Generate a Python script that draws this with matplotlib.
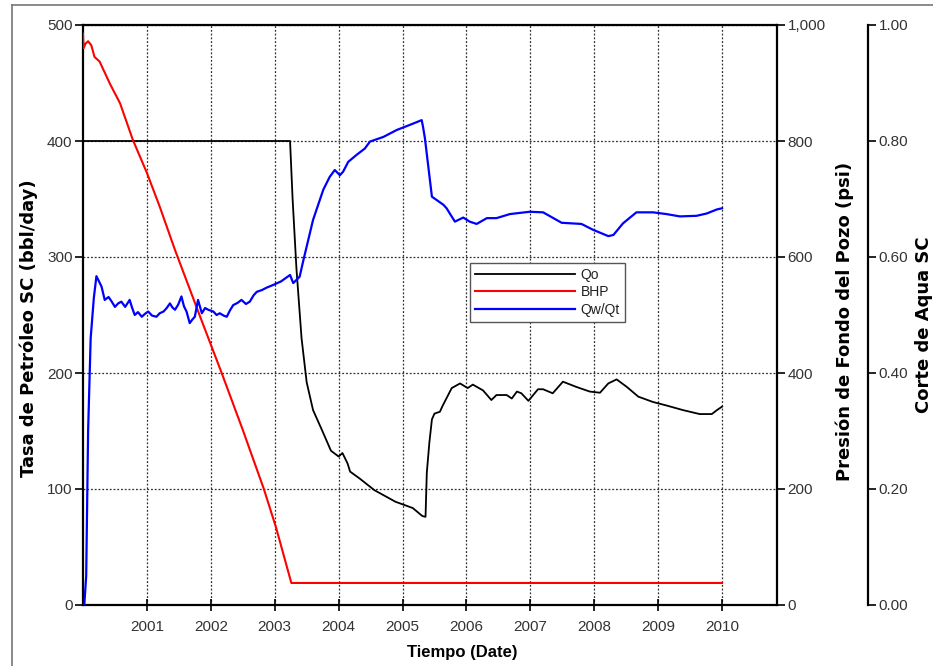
import numpy as np
import matplotlib
matplotlib.use("Agg")
import matplotlib.pyplot as plt
from matplotlib.lines import Line2D
from matplotlib.ticker import FuncFormatter

plt.rcParams['font.family'] = ['Liberation Sans', 'DejaVu Sans']

# Qo - oil rate (bbl/day)
qo_t = [2000.01, 2003.24, 2003.28, 2003.34, 2003.42, 2003.50, 2003.60, 2003.73,
        2003.88, 2004.00, 2004.06, 2004.14, 2004.18, 2004.33, 2004.56, 2004.89,
        2005.16, 2005.31, 2005.36, 2005.38, 2005.42, 2005.46, 2005.50, 2005.585,
        2005.63, 2005.77, 2005.90, 2006.02, 2006.10, 2006.26, 2006.39, 2006.47,
        2006.63, 2006.71, 2006.79, 2006.86, 2006.97, 2007.12, 2007.20, 2007.35,
        2007.51, 2007.72, 2007.93, 2008.09, 2008.22, 2008.35, 2008.51, 2008.69,
        2008.92, 2009.13, 2009.39, 2009.65, 2009.84, 2009.92, 2010.0]
qo_v = [400, 400, 350, 290, 230, 192, 168, 152,
        133, 128, 131, 122, 115, 109, 99, 89,
        83.6, 76.7, 76, 114, 140, 160, 165, 166.6,
        172, 187, 191, 187, 190, 185, 176.7, 181,
        181, 178, 184, 182.5, 176, 186, 186, 182.5,
        192.5, 188, 184, 183, 191, 194.5, 188, 179.6,
        175, 172, 168, 164.6, 164.6, 168, 171]

# BHP - bottom hole pressure (psi)
bhp_t = [2000.0, 2000.01, 2000.04, 2000.08, 2000.13, 2000.18, 2000.26, 2000.42,
         2000.58, 2000.78, 2001.00, 2001.20, 2001.44, 2001.83, 2002.17, 2002.50,
         2002.83, 2003.02, 2003.26, 2010.0]
bhp_v = [985, 960, 968, 972, 965, 945, 937, 899,
         865, 802, 745, 687, 612, 498, 400, 302,
         200, 134, 38, 38]

# Qw/Qt - water cut (fraction)
wc_t = [2000.02, 2000.05, 2000.08, 2000.12, 2000.17, 2000.21, 2000.29, 2000.34,
        2000.40, 2000.45, 2000.50, 2000.55, 2000.60, 2000.66, 2000.73, 2000.77,
        2000.81, 2000.86, 2000.92, 2000.97, 2001.02, 2001.08, 2001.15, 2001.20,
        2001.26, 2001.31, 2001.36, 2001.40, 2001.44, 2001.49, 2001.54, 2001.58,
        2001.62, 2001.67, 2001.71, 2001.75, 2001.80, 2001.86, 2001.91, 2001.96,
        2002.04, 2002.09, 2002.14, 2002.20, 2002.25, 2002.30, 2002.35, 2002.42,
        2002.48, 2002.55, 2002.61, 2002.67, 2002.72, 2002.80, 2002.87, 2002.98,
        2003.10, 2003.24, 2003.29, 2003.39, 2003.45,
        2003.60, 2003.76, 2003.86, 2003.94, 2004.02, 2004.07, 2004.15, 2004.28,
        2004.41, 2004.49, 2004.70, 2004.91, 2005.12, 2005.30, 2005.32, 2005.35,
        2005.46, 2005.64, 2005.69, 2005.74, 2005.82, 2005.95, 2006.05, 2006.16,
        2006.32, 2006.47, 2006.68, 2006.99, 2007.20, 2007.49, 2007.80, 2007.98,
        2008.22, 2008.30, 2008.45, 2008.66, 2008.92, 2009.13, 2009.34, 2009.60,
        2009.76, 2009.92, 2010.0]
wc_v = [0.0, 0.05, 0.30, 0.46, 0.53, 0.567, 0.549, 0.526,
        0.531, 0.523, 0.514, 0.520, 0.523, 0.514, 0.526, 0.512,
        0.500, 0.505, 0.497, 0.502, 0.506, 0.499, 0.497, 0.503,
        0.506, 0.512, 0.520, 0.513, 0.509, 0.518, 0.532, 0.515,
        0.506, 0.486, 0.492, 0.497, 0.526, 0.503, 0.512, 0.509,
        0.506, 0.500, 0.503, 0.499, 0.497, 0.508, 0.517, 0.521,
        0.526, 0.519, 0.523, 0.534, 0.540, 0.543, 0.547, 0.552,
        0.558, 0.569, 0.555, 0.566, 0.595,
        0.664, 0.716, 0.738, 0.750, 0.741, 0.747, 0.764, 0.776,
        0.787, 0.799, 0.807, 0.819, 0.828, 0.836, 0.825, 0.805,
        0.704, 0.690, 0.684, 0.675, 0.661, 0.668, 0.661, 0.657,
        0.667, 0.667, 0.674, 0.678, 0.677, 0.659, 0.657, 0.647,
        0.636, 0.638, 0.658, 0.677, 0.677, 0.674, 0.670, 0.671,
        0.675, 0.682, 0.684]

years = list(range(2001, 2011))

W, H = 933, 666
fig = plt.figure(figsize=(W / 100, H / 100), dpi=100)
x0, x1, y0, y1 = 83, 777, 25, 605
ax = fig.add_axes([x0 / W, 1 - y1 / H, (x1 - x0) / W, (y1 - y0) / H])
ax2 = ax.twinx()
ax3 = ax.twinx()
ax3.spines['right'].set_position(('axes', (868 - x0) / (x1 - x0)))

tick_col = '#333333'
grid_kw = dict(color='#303030', linestyle=(0, (1.5, 1.5)), linewidth=0.9)

l1, = ax.plot(qo_t, qo_v, color='black', lw=1.3, label='Qo')
l2, = ax2.plot(bhp_t, bhp_v, color='#ff0000', lw=1.5, label='BHP')
l3, = ax3.plot(wc_t, wc_v, color='#0000ff', lw=1.6, label='Qw/Qt')

ax.set_xlim(2000.0, 2010.86)
ax.set_ylim(0, 500)
ax2.set_ylim(0, 1000)
ax3.set_ylim(0, 1.0)

ax.set_xticks(years)
ax.set_xticklabels([str(y) for y in years])
ax.set_yticks(range(0, 501, 100))
ax2.set_yticks(range(0, 1001, 200))
ax2.yaxis.set_major_formatter(FuncFormatter(lambda v, p: f'{int(v):,}'))
ax3.set_yticks(np.arange(0, 1.01, 0.2))
ax3.yaxis.set_major_formatter(FuncFormatter(lambda v, p: f'{v:.2f}'))

ax.grid(True, **grid_kw)

for a in (ax, ax2, ax3):
    for s in a.spines.values():
        s.set_linewidth(1.6)
        s.set_color('black')
for s in ('top', 'left', 'bottom'):
    ax2.spines[s].set_visible(False)
    ax3.spines[s].set_visible(False)
ax.spines['right'].set_visible(False)

ax.tick_params(axis='y', direction='out', length=6, width=1.2, labelsize=11,
               labelcolor=tick_col, pad=1.5)
ax.tick_params(axis='x', direction='inout', length=8, width=1.2, labelsize=11,
               labelcolor=tick_col, pad=7)
for a in (ax2, ax3):
    a.tick_params(axis='y', direction='out', length=6, width=1.2, labelsize=11,
                  labelcolor=tick_col, pad=1.5)

lab_kw = dict(fontsize=13, fontweight='bold', family='DejaVu Sans')
ax.set_ylabel('Tasa de Petróleo SC (bbl/day)', **lab_kw)
ax.yaxis.set_label_coords(-0.065, 0.478)
ax2.set_ylabel('Presión de Fondo del Pozo (psi)', rotation=90, **lab_kw)
ax2.yaxis.set_label_coords(1.0836, 0.489)
ax3.set_ylabel('Corte de Aqua SC', rotation=90, **lab_kw)
ax3.yaxis.set_label_coords(1.199, 0.483)
ax.set_xlabel('Tiempo (Date)', fontsize=12, fontweight='bold')
ax.xaxis.set_label_coords(0.546, -0.069)

leg = ax3.legend(handles=[l1, l2, l3], loc='upper left',
                 bbox_to_anchor=(470 / W, 1 - 263 / H), bbox_transform=fig.transFigure,
                 borderaxespad=0, fontsize=10, handlelength=7.2, handletextpad=0.4,
                 labelspacing=0.25, borderpad=0.35, fancybox=False, framealpha=1)
leg.get_frame().set_edgecolor('#555555')
leg.get_frame().set_linewidth(1.0)
for t in leg.get_texts():
    t.set_color('#222222')

# outer frame
fig.add_artist(Line2D([12 / W, 12 / W], [0, 1 - 5 / H], transform=fig.transFigure,
                      color='#777777', lw=1.2))
fig.add_artist(Line2D([12 / W, 1], [1 - 5 / H, 1 - 5 / H], transform=fig.transFigure,
                      color='#777777', lw=1.2))

fig.savefig('out.png', dpi=100)
